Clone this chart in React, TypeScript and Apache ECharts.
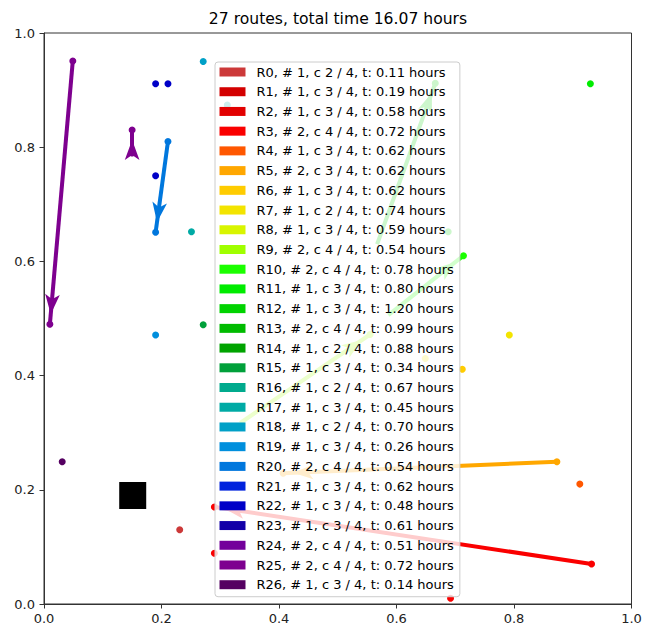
import React, { useEffect, useRef } from "react";
import * as echarts from "echarts";

const titleText = "27 routes, total time 16.07 hours";

const routeLabels: string[] = [
  "R0, # 1, c 2 / 4, t: 0.11 hours",
  "R1, # 1, c 3 / 4, t: 0.19 hours",
  "R2, # 1, c 3 / 4, t: 0.58 hours",
  "R3, # 2, c 4 / 4, t: 0.72 hours",
  "R4, # 1, c 3 / 4, t: 0.62 hours",
  "R5, # 2, c 3 / 4, t: 0.62 hours",
  "R6, # 1, c 3 / 4, t: 0.62 hours",
  "R7, # 1, c 2 / 4, t: 0.74 hours",
  "R8, # 1, c 3 / 4, t: 0.59 hours",
  "R9, # 2, c 4 / 4, t: 0.54 hours",
  "R10, # 2, c 4 / 4, t: 0.78 hours",
  "R11, # 1, c 3 / 4, t: 0.80 hours",
  "R12, # 1, c 3 / 4, t: 1.20 hours",
  "R13, # 2, c 4 / 4, t: 0.99 hours",
  "R14, # 1, c 2 / 4, t: 0.88 hours",
  "R15, # 1, c 3 / 4, t: 0.34 hours",
  "R16, # 1, c 2 / 4, t: 0.67 hours",
  "R17, # 1, c 3 / 4, t: 0.45 hours",
  "R18, # 1, c 2 / 4, t: 0.70 hours",
  "R19, # 1, c 3 / 4, t: 0.26 hours",
  "R20, # 2, c 4 / 4, t: 0.54 hours",
  "R21, # 1, c 3 / 4, t: 0.62 hours",
  "R22, # 1, c 3 / 4, t: 0.48 hours",
  "R23, # 1, c 3 / 4, t: 0.61 hours",
  "R24, # 2, c 4 / 4, t: 0.51 hours",
  "R25, # 2, c 4 / 4, t: 0.72 hours",
  "R26, # 1, c 3 / 4, t: 0.14 hours",
];

const routeColors: string[] = [
  "#cc3939", "#d30000", "#e20000", "#fa0000", "#ff5700", "#ffa700", "#ffcc00",
  "#f3e400", "#d8f500", "#a0ff00", "#1bff00", "#00ec00", "#00d300", "#00bb00",
  "#00a300", "#00a03a", "#00aa8d", "#00aaa5", "#00a0c7", "#008fdd", "#0077dd",
  "#0022dd", "#0000c7", "#1300a8", "#74009b", "#7e008f", "#550061",
];

// customer stops: [route index, x, y]
const stops: [number, number, number][] = [
  [0, 0.231, 0.13],
  [3, 0.29, 0.17], [3, 0.29, 0.089], [3, 0.932, 0.07], [3, 0.692, 0.01],
  [4, 0.912, 0.21],
  [5, 0.873, 0.249], [5, 0.407, 0.229],
  [6, 0.712, 0.411],
  [7, 0.792, 0.471], [7, 0.649, 0.43],
  [9, 0.555, 0.472],
  [10, 0.714, 0.61],
  [11, 0.93, 0.911],
  [12, 0.666, 0.912], [12, 0.688, 0.652],
  [15, 0.271, 0.489],
  [17, 0.251, 0.652], [17, 0.312, 0.874],
  [18, 0.271, 0.95],
  [19, 0.19, 0.471],
  [20, 0.211, 0.81], [20, 0.19, 0.651],
  [22, 0.19, 0.911], [22, 0.211, 0.911], [22, 0.19, 0.75],
  [25, 0.049, 0.951], [25, 0.01, 0.49], [25, 0.15, 0.83], [25, 0.15, 0.79],
  [26, 0.031, 0.249],
];

// arrows: [route index, x from, y from, x to, y to]
const arrows: [number, number, number, number, number][] = [
  [3, 0.932, 0.07, 0.29, 0.17],
  [5, 0.873, 0.249, 0.407, 0.229],
  [9, 0.334, 0.317, 0.555, 0.472],
  [10, 0.586, 0.506, 0.714, 0.61],
  [12, 0.567, 0.63, 0.666, 0.912],
  [20, 0.211, 0.81, 0.19, 0.651],
  [25, 0.049, 0.951, 0.01, 0.49],
  [25, 0.15, 0.79, 0.15, 0.83],
];

const depot: [number, number] = [0.151, 0.19];

const axisTicks = [0, 0.2, 0.4, 0.6, 0.8, 1.0];

const FONT = "DejaVu Sans";

export default function App() {
  const ref = useRef<HTMLDivElement>(null);
  useEffect(() => {
    if (!ref.current) return;
    const chart = echarts.init(ref.current, undefined, { renderer: "svg" });

    const routeSeries = routeLabels.map((name, i) => {
      const segs = arrows.filter((a) => a[0] === i);
      const s: any = {
        name,
        type: "scatter",
        symbol: "circle",
        symbolSize: 7,
        itemStyle: { color: routeColors[i], opacity: 1 },
        data: stops.filter((p) => p[0] === i).map((p) => [p[1], p[2]]),
        z: 3,
        silent: true,
      };
      if (segs.length) {
        s.markLine = {
          silent: true,
          symbol: ["none", "arrow"],
          symbolSize: [11, 20],
          symbolOffset: [0, [0, 10]],
          label: { show: false },
          lineStyle: { color: routeColors[i], width: 4, type: "solid", opacity: 1 },
          emphasis: { disabled: true },
          data: segs.map((a) => [{ coord: [a[1], a[2]] }, { coord: [a[3], a[4]] }]),
          animation: false,
        };
      }
      return s;
    });

    const axisCommon = {
      type: "value",
      min: 0,
      max: 1,
      interval: 0.2,
      splitLine: { show: false },
      axisLine: { show: true, lineStyle: { color: "#333", width: 1 } },
      axisTick: { show: true, inside: false, length: 4.5, lineStyle: { color: "#333", width: 1 } },
      axisLabel: {
        fontFamily: FONT,
        fontSize: 13,
        color: "#222",
        formatter: (v: number) => (axisTicks.includes(Math.round(v * 10) / 10) ? v.toFixed(1) : ""),
      },
    };

    chart.setOption({
      animation: false,
      grid: {
        left: 44,
        right: 16.5,
        top: 33,
        bottom: 25,
        show: true,
        borderColor: "#333",
        borderWidth: 1,
        backgroundColor: "transparent",
        containLabel: false,
        outerBoundsMode: "none",
      },
      xAxis: { ...axisCommon, axisLabel: { ...axisCommon.axisLabel, margin: 8 } },
      yAxis: { ...axisCommon, axisLabel: { ...axisCommon.axisLabel, margin: 9 } },
      legend: {
        data: routeLabels,
        orient: "vertical",
        left: 215,
        top: 62,
        padding: [3, 6, 5, 4.5],
        icon: "rect",
        itemWidth: 26,
        itemHeight: 9,
        itemGap: 5.72,
        backgroundColor: "rgba(255,255,255,0.8)",
        borderColor: "#cccccc",
        borderWidth: 1,
        borderRadius: 3,
        selectedMode: false,
        textStyle: { fontFamily: FONT, fontSize: 13, color: "#000", lineHeight: 14, padding: [0, 0, 0, 6] },
        z: 10,
      },
      graphic: [
        {
          type: "text",
          x: 338,
          y: 18.5,
          style: {
            text: titleText,
            fontFamily: FONT,
            fontSize: 15.6,
            fill: "#000",
            textAlign: "center",
            textVerticalAlign: "middle",
          },
        },
      ],
      series: [
        ...routeSeries,
        {
          name: "depot",
          type: "scatter",
          symbol: "rect",
          symbolSize: 27,
          itemStyle: { color: "#000", opacity: 1 },
          data: [depot],
          z: 4,
          silent: true,
        },
      ],
    });
    return () => chart.dispose();
  }, []);
  return (
    <div
      ref={ref}
      style={{ position: "fixed", left: 0, top: 0, width: 648, height: 629, background: "#fff" }}
    />
  );
}
